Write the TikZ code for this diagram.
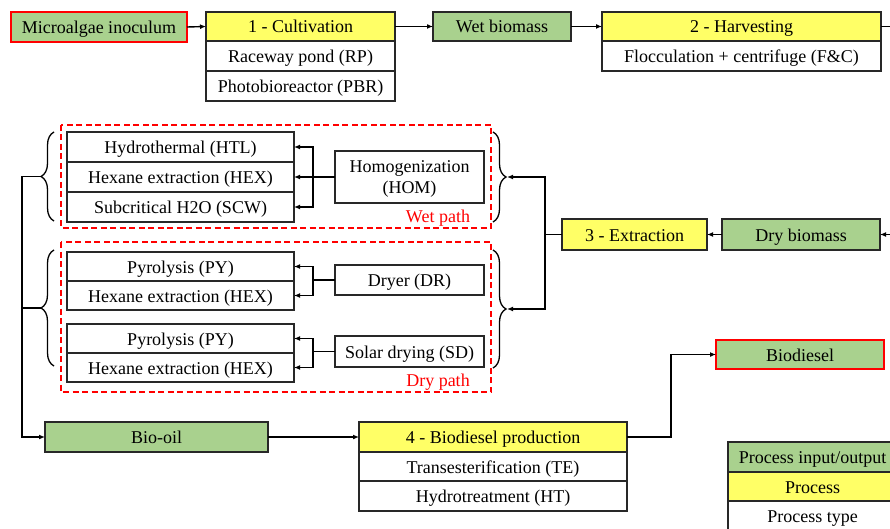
\documentclass[tikz,border=0pt]{standalone}
\usepackage{fontspec}
\setmainfont{Liberation Serif}
\usetikzlibrary{arrows.meta,decorations.pathreplacing}
\definecolor{gbox}{RGB}{169,209,142}
\definecolor{ybox}{RGB}{255,255,102}
\definecolor{rline}{RGB}{255,0,0}
\definecolor{bline}{RGB}{40,40,40}
\tikzset{
  cell/.style={draw=bline, line width=1.2pt, anchor=north west, inner sep=0pt, outer sep=0pt,
    font=\fontsize{18}{21}\selectfont, align=center, fill=white, text height=13pt, text depth=0pt},
  io/.style={cell, fill=gbox},
  proc/.style={cell, fill=ybox},
  endio/.style={cell, fill=gbox, draw=rline},
  conn/.style={line width=1.4pt, black},
  arr/.style={conn, -{Latex[length=6pt,width=5pt]}},
  pathbox/.style={draw=rline, line width=1.2pt, dash pattern=on 6pt off 3.5pt},
  pathlabel/.style={text=rline, font=\fontsize{18}{21}\selectfont, inner sep=0pt},
  brc/.style={line width=1.3pt, decorate, decoration={brace, amplitude=13pt}},
}
\begin{document}
\begin{tikzpicture}[x=1pt,y=1pt]
\clip (0,0) rectangle (890,-529);
\fill[white] (0,0) rectangle (890,-529);

% dashed path boxes
\draw[pathbox] (61,-125) rectangle (491,-228);
\draw[pathbox] (61,-242) rectangle (491,-392);
\node[pathlabel] (wetl) at (438,-218) {Wet path};
\node[pathlabel] (dryl) at (438,-382) {Dry path};

% top row
\node[endio, minimum width=176pt, minimum height=30pt] (mi) at (11,-12) {Microalgae inoculum};
\node[proc, minimum width=189pt, minimum height=29pt] (cult) at (206,-12) {1 - Cultivation};
\node[cell, minimum width=189pt, minimum height=30pt] (rp) at (206,-41) {Raceway pond (RP)};
\node[cell, minimum width=189pt, minimum height=30pt] (pbr) at (206,-71) {Photobioreactor (PBR)};
\node[io, minimum width=138pt, minimum height=29pt] (wb) at (433,-12) {Wet biomass};
\node[proc, minimum width=279pt, minimum height=29pt] (harv) at (602,-12) {2 - Harvesting};
\node[cell, minimum width=279pt, minimum height=30pt] (fc) at (602,-41) {Flocculation + centrifuge (F\&C)};

% extraction row
\node[io, minimum width=158pt, minimum height=31pt] (db) at (722,-219) {Dry biomass};
\node[proc, minimum width=145pt, minimum height=31pt] (ext) at (562,-219) {3 - Extraction};

% wet path
\node[cell, minimum width=227pt, minimum height=30pt] (htl) at (67,-132) {Hydrothermal (HTL)};
\node[cell, minimum width=227pt, minimum height=30pt] (hex1) at (67,-162) {Hexane extraction (HEX)};
\node[cell, minimum width=227pt, minimum height=30pt] (scw) at (67,-192) {Subcritical H2O (SCW)};
\node[cell, minimum width=149pt, minimum height=52pt, text height=34pt] (hom) at (335,-151) {Homogenization\\(HOM)};

% dry path
\node[cell, minimum width=227pt, minimum height=29pt] (py1) at (67,-252) {Pyrolysis (PY)};
\node[cell, minimum width=227pt, minimum height=29pt] (hex2) at (67,-281) {Hexane extraction (HEX)};
\node[cell, minimum width=149pt, minimum height=30pt] (dr) at (335,-265) {Dryer (DR)};
\node[cell, minimum width=227pt, minimum height=29pt] (py2) at (67,-324) {Pyrolysis (PY)};
\node[cell, minimum width=227pt, minimum height=29pt] (hex3) at (67,-353) {Hexane extraction (HEX)};
\node[cell, minimum width=149pt, minimum height=31pt] (sd) at (335,-336) {Solar drying (SD)};

% bottom
\node[io, minimum width=223pt, minimum height=30pt] (bio) at (45,-422) {Bio-oil};
\node[proc, minimum width=268pt, minimum height=30pt] (bdp) at (359,-422) {4 - Biodiesel production};
\node[cell, minimum width=268pt, minimum height=29pt] (te) at (359,-452) {Transesterification (TE)};
\node[cell, minimum width=268pt, minimum height=30pt] (ht) at (359,-481) {Hydrotreatment (HT)};
\node[endio, minimum width=168pt, minimum height=29pt] (bd) at (716,-340) {Biodiesel};

% legend
\node[io, minimum width=169pt, minimum height=30pt] (leg1) at (728,-442) {Process input/output};
\node[proc, minimum width=169pt, minimum height=29pt] (leg2) at (728,-472) {Process};
\node[cell, minimum width=169pt, minimum height=30pt] (leg3) at (728,-501) {Process type};

% top connectors
\draw[arr] (mi.east) -- (cult.west);
\draw[arr] (cult.east) -- (wb.west);
\draw[arr] (wb.east) -- (harv.west);
\coordinate (hout) at (896,-26.5);
\coordinate (din) at (896,-234.5);
\draw[conn] (harv.east) -- (hout);
\draw[arr] (din) -- (db.east);
\draw[arr] (db.west) -- (ext.east);

% right braces
\draw[brc] (493,-132) -- (493,-222);
\draw[brc] (493,-250) -- (493,-368);
\coordinate (wtip) at (507,-177);
\coordinate (dtip) at (507,-309);
\coordinate (ej) at (545,-234.5);
\draw[conn] (ext.west) -- (ej);
\draw[arr] (ej) |- (wtip);
\draw[arr] (ej) |- (dtip);

% HOM connectors
\coordinate (wj) at (313,-177);
\draw[conn] (hom.west) -- (wj);
\draw[arr] (wj) |- (htl.east);
\draw[arr] (wj) -- (hex1.east);
\draw[arr] (wj) |- (scw.east);

% DR connectors
\coordinate (dj) at (313,-280);
\draw[conn] (dr.west) -- (dj);
\draw[arr] (dj) |- (py1.east);
\draw[arr] (dj) |- (hex2.east);

% SD connectors
\coordinate (sj) at (313,-351.5);
\draw[conn] (sd.west) -- (sj);
\draw[arr] (sj) |- (py2.east);
\draw[arr] (sj) |- (hex3.east);

% left braces
\draw[brc] (54,-221) -- (54,-132);
\draw[brc] (54,-366) -- (54,-250);
\coordinate (lwt) at (41,-176.5);
\coordinate (ldt) at (41,-308);
\coordinate (lc) at (22,-176.5);
\draw[arr] (lwt) -- (lc) |- (bio.west);
\draw[conn] (ldt) -- (ldt -| lc);

% bottom connectors
\draw[arr] (bio.east) -- (bdp.west);
\coordinate (bj) at (671,-437);
\draw[arr] (bdp.east) -- (bj) |- (bd.west);
\end{tikzpicture}
\end{document}
